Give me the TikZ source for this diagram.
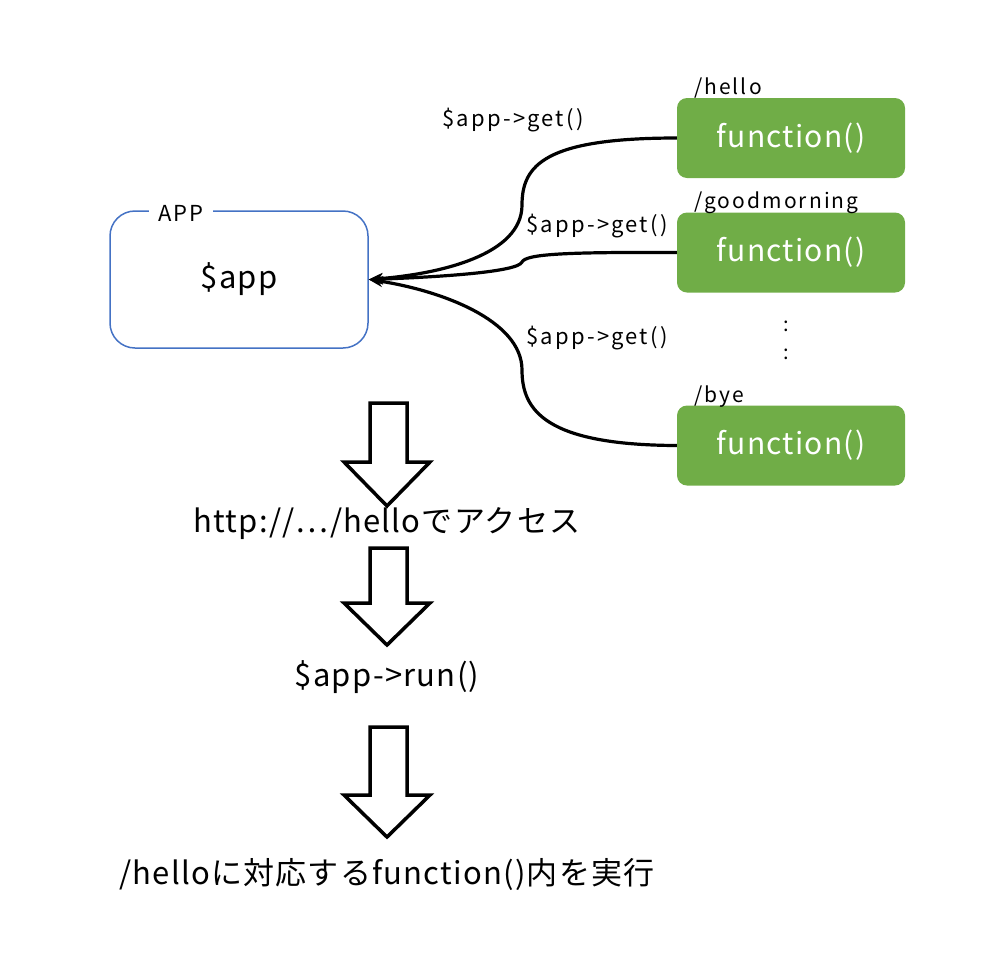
\documentclass[tikz,border=0pt]{standalone}
\usepackage{fontspec}
\setmainfont{Noto Sans CJK JP}[LetterSpace=4]
\newfontfamily\widefont{Noto Sans CJK JP}[LetterSpace=10]
\usetikzlibrary{positioning,arrows.meta}
\definecolor{appblue}{HTML}{4472C4}
\definecolor{funcgreen}{HTML}{70AD47}

\begin{document}
\begin{tikzpicture}[x=1pt,y=-1pt,>={Stealth[length=14pt,width=11pt]},
  appbox/.style={draw=appblue,line width=1.5pt,rounded corners=25pt,minimum width=258pt,minimum height=137pt},
  funcbox/.style={fill=funcgreen,text=white,rounded corners=10pt,minimum width=228pt,minimum height=80pt,font=\fontsize{30}{32}\selectfont},
  pathlbl/.style={anchor=base west,inner sep=0pt,font=\widefont\fontsize{21}{24}\selectfont},
  getlbl/.style={font=\widefont\fontsize{22}{24}\selectfont},
  steptext/.style={font=\fontsize{31}{33}\selectfont},
  conn/.style={line width=3.2pt},
  blockarrow/.style={draw,line width=3.5pt,fill=white,line join=miter}]
\useasboundingbox (0,0) rectangle (1000,954);

% the app object
\node[appbox] (app) at (239,279.5) {};
\node[font=\fontsize{31}{33}\selectfont] (appvar) at (app.center) {\$app};
\node[fill=white,inner xsep=9pt,inner ysep=1pt,font=\widefont\fontsize{22}{24}\selectfont] (applbl) at (181,213) {APP};

% routes
\node[funcbox] (hello) at (791,138) {function()};
\node[funcbox] (morning) at (791,252.5) {function()};
\node[funcbox] (bye) at (791,445.5) {function()};
\node[pathlbl] (hellopath) at ([xshift=17pt,yshift=3pt]hello.north west) {/hello};
\node[pathlbl] (morningpath) at ([xshift=17pt,yshift=4pt]morning.north west) {/goodmorning};
\node[pathlbl] (byepath) at ([xshift=17pt,yshift=3pt]bye.north west) {/bye};
\node[font=\fontsize{20}{24}\selectfont] (dotsa) at (786,326) {:};
\node[font=\fontsize{20}{24}\selectfont] (dotsb) at (786,354) {:};

\draw[conn,->] (hello.west) .. controls (545,138) and (522,165) .. (522,205) .. controls (522,255) and (440,274) .. (app.east);
\draw[conn,->] (morning.west) .. controls (565,252) and (526,254) .. (522,262) .. controls (518,272) and (440,277) .. (app.east);
\draw[conn,->] (bye.west) .. controls (545,445) and (522,410) .. (522,370) .. controls (522,320) and (440,290) .. (app.east);
\node[getlbl] (geta) at (513,120) {\$app->get()};
\node[getlbl] (getb) at (597,226) {\$app->get()};
\node[getlbl] (getc) at (597,338) {\$app->get()};

% flow downwards
\foreach \top/\neck/\tip in {403/462/506, 548/603/645, 727/795/837}
  \draw[blockarrow] (370,\top) -- (370,\neck) -- (344,\neck) -- (387,\tip) -- (430,\neck) -- (407,\neck) -- (407,\top) -- cycle;
\node[steptext] (access) at (387,524) {http://⋯/helloでアクセス};
\node[steptext] (run) at (387,677) {\$app->run()};
\node[steptext] (exec) at (387,874) {/helloに対応するfunction()内を実行};
\end{tikzpicture}
\end{document}
